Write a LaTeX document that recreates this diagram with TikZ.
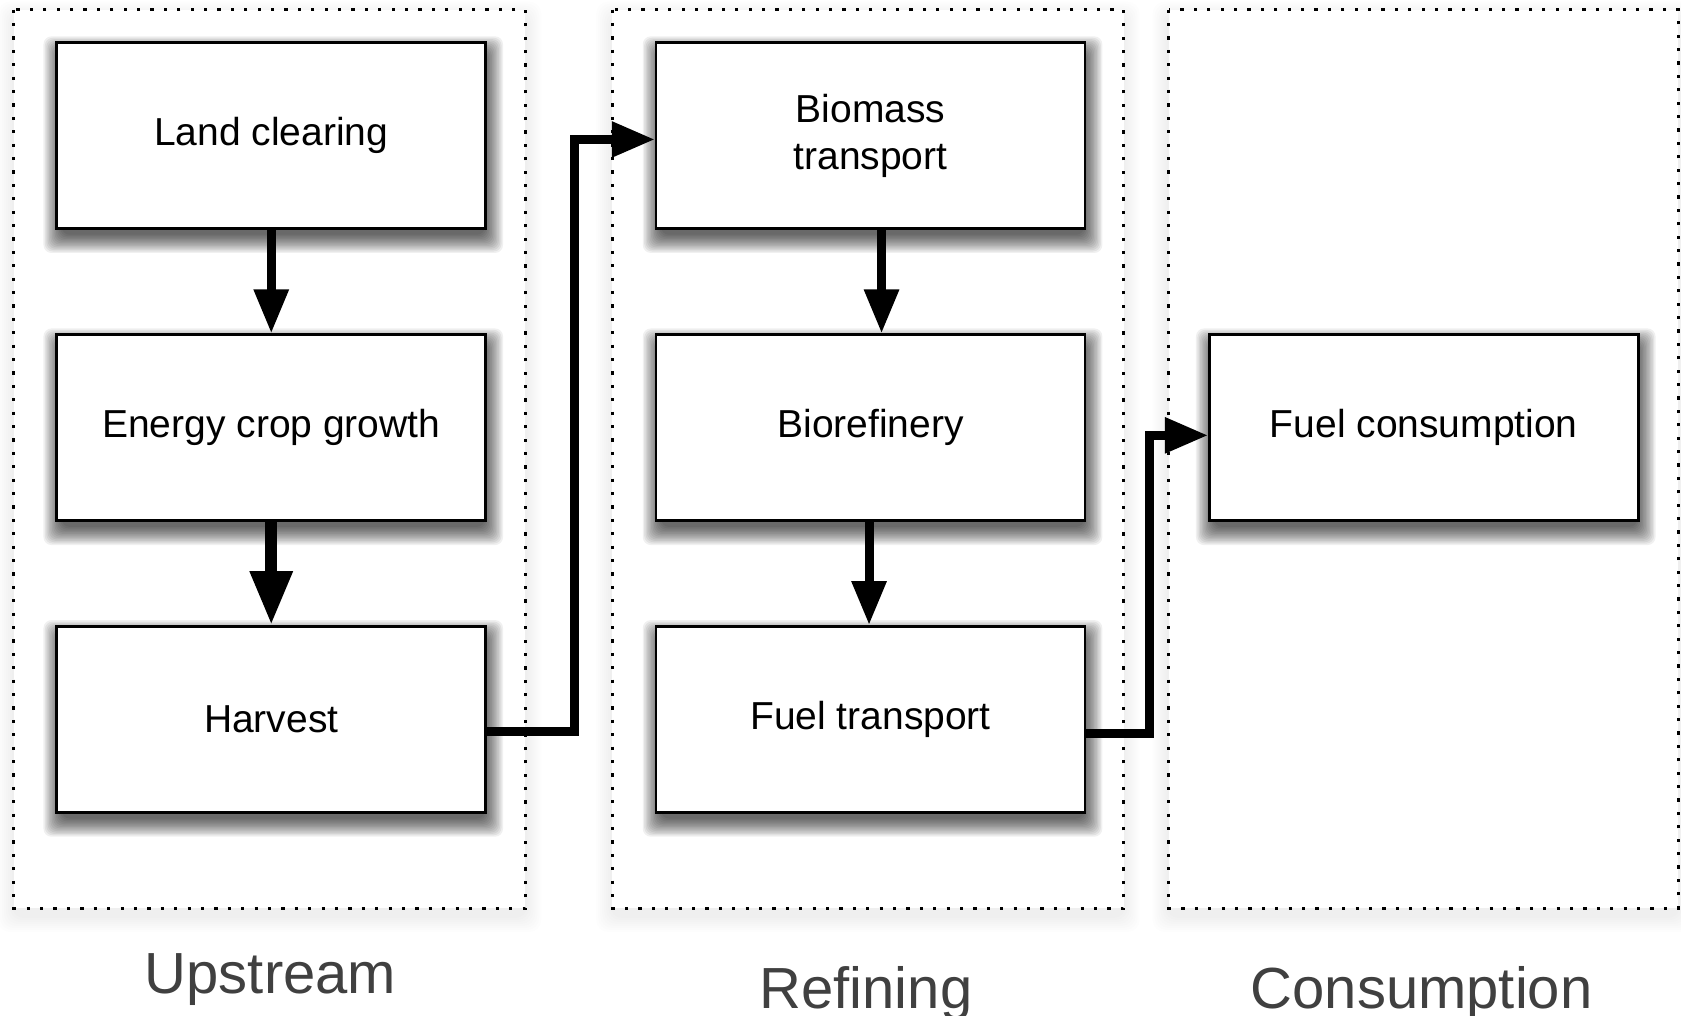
\documentclass[tikz,border=0pt]{standalone}
\usepackage{fontspec}
\setmainfont{Liberation Sans}
\usetikzlibrary{arrows.meta,calc,backgrounds}
\definecolor{labelgray}{RGB}{64,64,64}
\newcommand\boxshadow[1]{%
  \foreach \k in {0,...,13}{%
    \pgfmathsetmacro\e{14-\k*1.4}%
    \fill[black,opacity=0.06,rounded corners=4pt]
      ($(#1.south west)+(-\e+2,\e+9)$) rectangle ($(#1.north east)+(\e+2,-\e+9)$);
  }}
\newcommand\frameshadow[4]{%
  \foreach \k in {0,...,7}{%
    \pgfmathsetmacro\e{16-\k*2}%
    \fill[black,opacity=0.006,rounded corners=6pt]
      (#1-\e,#2-\e+8) rectangle (#3+\e,#4+\e+8);
  }%
  \fill[white] (#1,#2) rectangle (#3,#4);}
\begin{document}
\begin{tikzpicture}[x=0.5pt,y=-0.5pt,
  stepbox/.style={draw=black,line width=1.3pt,fill=white,minimum width=214.5pt,
    minimum height=93pt,inner sep=0pt,align=center,
    font=\fontsize{19.5}{23.4}\selectfont},
  frame/.style={line width=1.5pt,dash pattern=on 1.6pt off 5.1pt},
  flow/.style={line width=4.5pt,-{Triangle[length=22pt,width=16.5pt]}},
  flowbig/.style={line width=6pt,-{Triangle[length=27pt,width=20pt]}},
  elbow/.style={line width=4.3pt,-{Triangle[length=21.5pt,width=17pt]}},
  stagelabel/.style={anchor=base,text=labelgray,font=\fontsize{29}{34}\selectfont,inner sep=0pt}]
\useasboundingbox (0,0) rectangle (1681,1016);

% boxes
\node[stepbox] (lc)  at (271.25,135.65) {Land clearing};
\node[stepbox] (ecg) at (271.25,427.75) {Energy crop growth};
\node[stepbox] (hv)  at (271.25,719.4)  {Harvest};
\node[stepbox] (bt)  at (870.55,135.65) {Biomass\\transport};
\node[stepbox] (bio) at (870.55,427.75) {Biorefinery};
\node[stepbox] (ft)  at (870.55,719.4)  {Fuel transport};
\node[stepbox] (fc)  at (1423.75,427.75) {Fuel consumption};

\begin{scope}[on background layer]
  \fill[white] (0,0) rectangle (1681,1016);
  \frameshadow{13.9}{9.6}{525.3}{908}
  \frameshadow{612.2}{9.6}{1123.6}{908}
  \frameshadow{1168.6}{9.6}{1678}{908}
  \boxshadow{lc}\boxshadow{ecg}\boxshadow{hv}
  \boxshadow{bt}\boxshadow{bio}\boxshadow{ft}\boxshadow{fc}
\end{scope}

% stage frames
\draw[frame] (13.9,9.6) rectangle (525.3,908);
\draw[frame] (612.2,9.6) rectangle (1123.6,908);
\draw[frame] (1168.6,9.6) rectangle (1678,908);

% connectors
\draw[flow] (lc.south) -- (ecg.north);
\draw[flowbig] (ecg.south) -- (hv.north);
\draw[flow] ($(bt.south)+(11,0)$) -- ($(bio.north)+(11,0)$);
\draw[flow] ($(bio.south)+(-1.5,0)$) -- ($(ft.north)+(-1.5,0)$);
\coordinate (h1) at ($(hv.east)+(0,11.8)$);
\coordinate (b1) at ($(bt.west)+(0,3.8)$);
\draw[elbow] (h1) -| (574.6,0 |- b1) -- (b1);
\coordinate (f1) at ($(ft.east)+(0,13.9)$);
\coordinate (c1) at ($(fc.west)+(0,7.6)$);
\draw[elbow] (f1) -| (1149.3,0 |- c1) -- (c1);

% stage labels
\node[stagelabel] (up) at (270.5,993) {Upstream};
\node[stagelabel] (rf) at (866,1008) {Refining};
\node[stagelabel] (cs) at (1421.6,1008) {Consumption};
\end{tikzpicture}
\end{document}
